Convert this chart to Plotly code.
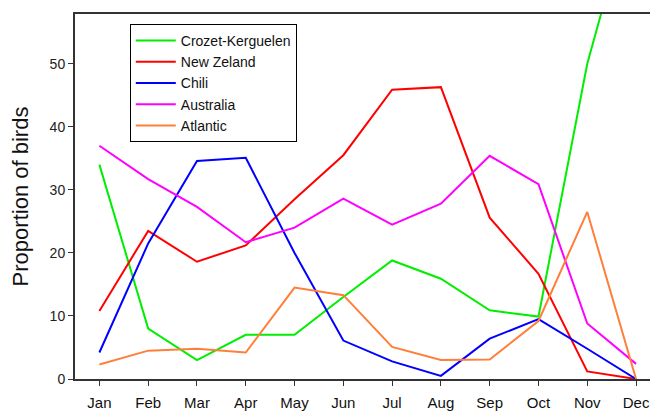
import plotly.graph_objects as go

months = ["Jan", "Feb", "Mar", "Apr", "May", "Jun", "Jul", "Aug", "Sep", "Oct", "Nov", "Dec"]
crozet = [34, 8, 3, 7, 7, 13, 18.8, 15.9, 10.9, 9.9, 50, 78]
new_zeland = [10.8, 23.5, 18.6, 21.2, 28.5, 35.5, 45.9, 46.3, 25.6, 16.7, 1.2, 0]
chili = [4.2, 21.5, 34.6, 35.1, 20, 6.1, 2.8, 0.5, 6.4, 9.5, 4.8, 0]
australia = [37, 31.7, 27.3, 21.7, 24, 28.6, 24.5, 27.8, 35.4, 30.9, 8.8, 2.4]
atlantic = [2.3, 4.5, 4.8, 4.2, 14.5, 13.3, 5.1, 3.0, 3.1, 9.2, 26.5, 0]

series = [
    ("Crozet-Kerguelen", crozet, "#00ee00"),
    ("New Zeland", new_zeland, "#ff0000"),
    ("Chili", chili, "#0000ff"),
    ("Australia", australia, "#ff00ff"),
    ("Atlantic", atlantic, "#ff7f3a"),
]

fig = go.Figure()
for name, vals, col in series:
    fig.add_trace(go.Scatter(x=list(range(len(months))), y=vals, mode="lines", name=name,
                             line=dict(color=col, width=2)))

font = "Liberation Sans, Arial, sans-serif"
fig.update_layout(
    width=650, height=403,
    margin=dict(l=67, r=0, t=6, b=32),
    plot_bgcolor="white", paper_bgcolor="white",
    font=dict(family=font, size=14, color="#222"),
    showlegend=True,
    legend=dict(x=0.094, y=0.9726, xanchor="left", yanchor="top",
                bordercolor="#000", borderwidth=1, bgcolor="white",
                font=dict(size=14, color="#111"), tracegroupgap=0, itemwidth=40),
    xaxis=dict(range=[-0.5, 11.45], tickmode="array", tickvals=list(range(12)), ticktext=months,
               showline=True, linecolor="#333", linewidth=2, mirror=True,
               ticks="outside", ticklen=5, tickcolor="#333", showgrid=False, zeroline=False,
               tickfont=dict(size=15, color="#111"), ticklabelstandoff=4),
    yaxis=dict(range=[0, 57.9], tickvals=[0, 10, 20, 30, 40, 50],
               showline=True, linecolor="#333", linewidth=2,
               ticks="outside", ticklen=5, tickcolor="#333", showgrid=False, zeroline=False,
               title=dict(text="Proportion of birds", font=dict(size=22, color="#111"), standoff=15),
               tickfont=dict(size=14, color="#222")),
)
fig.write_html("out.html")
